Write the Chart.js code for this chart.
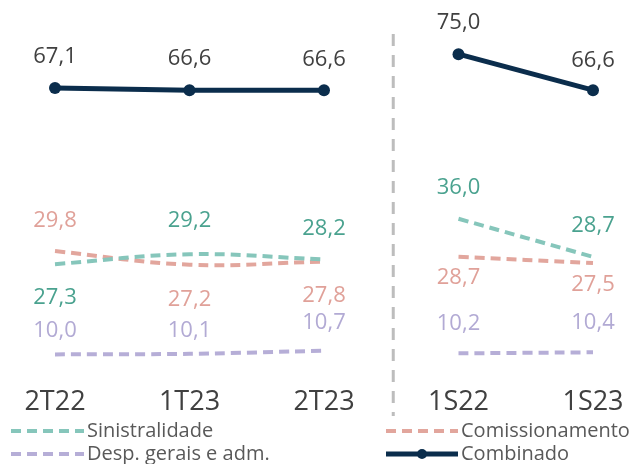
<!DOCTYPE html>
<html><head><meta charset="utf-8">
<script src="https://cdn.jsdelivr.net/npm/chart.js@4/dist/chart.umd.min.js"></script>
<style>html,body{margin:0;padding:0;background:#fff;} #wrap{width:636px;height:464px;}</style>
</head><body><div id="wrap"><canvas id="c" width="636" height="464"></canvas></div>
<script>
const categories = ['2T22', '1T23', '2T23', '1S22', '1S23'];
const sinistralidade = [27.3, 29.2, 28.2, 36.0, 28.7];
const comissionamento = [29.8, 27.2, 27.8, 28.7, 27.5];
const despesas = [10.0, 10.1, 10.7, 10.2, 10.4];
const combinado = [67.1, 66.6, 66.6, 75.0, 66.6];
const groupStart = 3; // first semester category (1S22)

const FONT = "'Open Sans', 'Noto Sans', sans-serif";
const series = [
  { name: 'Sinistralidade', values: sinistralidade, color: '#86c6bb', labelColor: '#4aa28f', dash: [10, 6], width: 4, axis: 'y', tension: 0.4, dy: [34, -34, -31, -31, -31] },
  { name: 'Comissionamento', values: comissionamento, color: '#e2a69d', labelColor: '#e0a199', dash: [10, 6], width: 4, axis: 'y', tension: 0.4, dy: [-30, 35, 34, 21, 22] },
  { name: 'Desp. gerais e adm.', values: despesas, color: '#b6aed7', labelColor: '#b2aad4', dash: [10, 6], width: 4, axis: 'y', tension: 0.2, dy: [-24, -23, -28, -30, -30] },
  { name: 'Combinado', values: combinado, color: '#0b2d4c', labelColor: '#404040', dash: [], width: 5, axis: 'y2', tension: 0, dy: [-31, -31, -30, -31, -29], marker: true }
];

const fmt = v => v.toFixed(1).replace('.', ',');
const part = (arr, g) => arr.map((v, i) => ((g === 0) === (i < groupStart)) ? v : null);

const datasets = [];
series.forEach((s, si) => {
  [0, 1].forEach(g => {
    datasets.push({
      label: s.name, seriesIndex: si, group: g,
      data: part(s.values, g),
      yAxisID: s.axis,
      borderColor: s.color, backgroundColor: s.color,
      borderWidth: s.width, borderDash: s.dash,
      tension: s.tension, spanGaps: false,
      pointRadius: s.marker ? 6 : 0, pointHoverRadius: s.marker ? 6 : 0,
      pointBackgroundColor: s.color, pointBorderWidth: 0,
      fill: false, order: s.marker ? 0 : 1
    });
  });
});

const labelPlugin = {
  id: 'labels',
  afterDatasetsDraw(chart) {
    const ctx = chart.ctx;
    ctx.save();
    ctx.font = '22px ' + FONT;
    ctx.textAlign = 'center';
    ctx.textBaseline = 'middle';
    chart.data.datasets.forEach((ds, di) => {
      const s = series[ds.seriesIndex];
      const meta = chart.getDatasetMeta(di);
      meta.data.forEach((pt, i) => {
        const v = ds.data[i];
        if (v === null || v === undefined) return;
        ctx.fillStyle = s.labelColor;
        ctx.fillText(fmt(v), pt.x, pt.y + s.dy[i]);
      });
    });
    ctx.restore();
  }
};

const dividerPlugin = {
  id: 'divider',
  beforeDatasetsDraw(chart) {
    const xs = chart.scales.x;
    const x = (xs.getPixelForValue(groupStart - 1) + xs.getPixelForValue(groupStart)) / 2 + 2;
    const ctx = chart.ctx;
    ctx.save();
    ctx.strokeStyle = '#bdbdbd';
    ctx.lineWidth = 3;
    ctx.setLineDash([12, 9]);
    ctx.beginPath();
    ctx.moveTo(x, 34);
    ctx.lineTo(x, 416);
    ctx.stroke();
    ctx.restore();
  }
};

const legendPlugin = {
  id: 'customLegend',
  afterDraw(chart) {
    const ctx = chart.ctx;
    const items = [
      { s: series[0], x0: 11, x1: 84, y: 431 },
      { s: series[1], x0: 386, x1: 458, y: 431 },
      { s: series[2], x0: 11, x1: 84, y: 454 },
      { s: series[3], x0: 386, x1: 458, y: 454 }
    ];
    ctx.save();
    items.forEach(it => {
      ctx.strokeStyle = it.s.color;
      ctx.lineWidth = it.s.marker ? 5 : 4;
      ctx.setLineDash(it.s.dash);
      ctx.beginPath();
      ctx.moveTo(it.x0, it.y);
      ctx.lineTo(it.x1, it.y);
      ctx.stroke();
      ctx.setLineDash([]);
      if (it.s.marker) {
        ctx.fillStyle = it.s.color;
        ctx.beginPath();
        ctx.arc((it.x0 + it.x1) / 2, it.y, 5, 0, Math.PI * 2);
        ctx.fill();
      }
      ctx.fillStyle = '#595959';
      ctx.font = '20px ' + FONT;
      ctx.textAlign = 'left';
      ctx.textBaseline = 'middle';
      ctx.fillText(it.s.name, it.x1 + 3, it.y);
    });
    ctx.restore();
  }
};

new Chart(document.getElementById('c'), {
  type: 'line',
  data: { labels: categories, datasets },
  options: {
    responsive: false,
    animation: false,
    devicePixelRatio: 1,
    layout: { padding: { left: 55, right: 43, top: 0, bottom: 50 } },
    plugins: { legend: { display: false }, tooltip: { enabled: false } },
    scales: {
      x: {
        type: 'category', offset: false,
        grid: { display: false, drawTicks: false },
        border: { display: false },
        ticks: { font: { family: FONT, size: 27 }, color: '#404040', padding: 6, maxRotation: 0, autoSkip: false },
        afterFit(a) { a.height = 34; }
      },
      y: { display: false, min: 5.09, max: 76.79 },
      y2: { display: false, min: -1.1, max: 86.26 }
    }
  },
  plugins: [dividerPlugin, labelPlugin, legendPlugin]
});
</script>
</body></html>
